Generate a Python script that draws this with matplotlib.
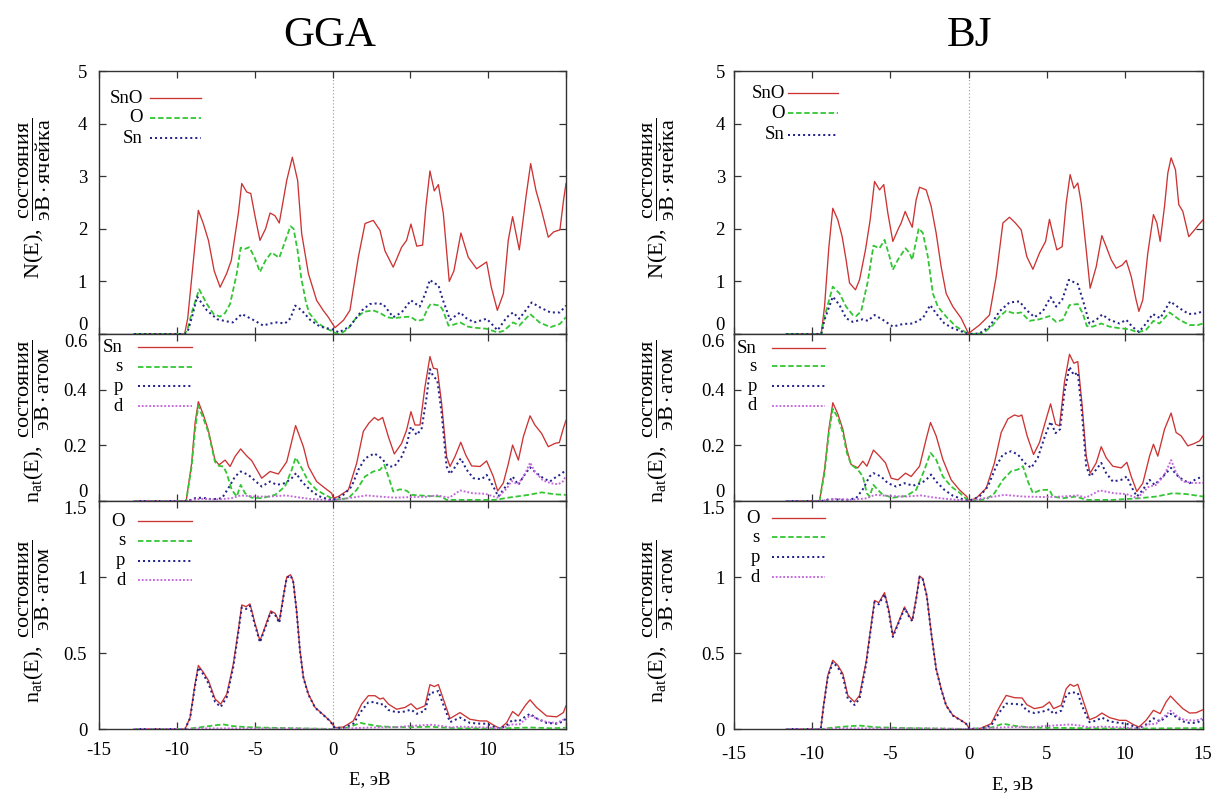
import matplotlib
matplotlib.use("Agg")
import matplotlib.pyplot as plt

plt.rcParams.update({
    "font.family": ["Liberation Serif", "DejaVu Serif"],
    "mathtext.fontset": "custom",
    "mathtext.rm": "Liberation Serif",
    "mathtext.it": "Liberation Serif:italic",
    "mathtext.bf": "Liberation Serif:bold",
    "axes.unicode_minus": False,
})

# ---------------------------------------------------------------- data (E, DOS)
# GGA: total DOS of SnO and its O / Sn contributions
GGA_SNO = [(-12.75, 0), (-9.5, 0), (-9.3, 0.3), (-9.0, 1.2), (-8.62, 2.35), (-8.3, 2.1),
           (-7.97, 1.78), (-7.6, 1.2), (-7.22, 0.89), (-6.8, 1.15), (-6.5, 1.40), (-6.05, 2.29),
           (-5.83, 2.86), (-5.51, 2.70), (-5.25, 2.67), (-4.95, 2.2), (-4.66, 1.78), (-4.3, 2.0),
           (-4.01, 2.30), (-3.7, 2.25), (-3.42, 2.11), (-2.94, 2.92), (-2.58, 3.36), (-2.24, 2.92),
           (-1.98, 1.91), (-1.55, 1.15), (-1.02, 0.64), (-0.6, 0.45), (-0.27, 0.32), (0.16, 0.12),
           (0.7, 0.26), (1.12, 0.45), (1.66, 1.46), (2.09, 2.10), (2.62, 2.16), (3.05, 1.97),
           (3.37, 1.58), (3.9, 1.27), (4.44, 1.65), (4.76, 1.78), (5.04, 2.09), (5.41, 1.67),
           (5.79, 1.69), (6.0, 2.42), (6.26, 3.10), (6.54, 2.72), (6.8, 2.84), (7.12, 2.29),
           (7.5, 1.0), (7.8, 1.2), (8.25, 1.92), (8.72, 1.46), (9.26, 1.24), (9.9, 1.37),
           (10.2, 0.89), (10.59, 0.45), (10.98, 0.77), (11.29, 1.78), (11.57, 2.23), (12.0, 1.60),
           (12.43, 2.61), (12.73, 3.24), (13.07, 2.73), (13.43, 2.35), (13.86, 1.84), (14.2, 1.94),
           (14.61, 1.98), (14.84, 2.54), (15.0, 2.86)]
GGA_O = [(-12.75, 0), (-9.5, 0), (-9.3, 0.1), (-9.0, 0.45), (-8.57, 0.85), (-8.07, 0.57),
         (-7.64, 0.38), (-7.22, 0.33), (-6.9, 0.4), (-6.58, 0.57), (-6.15, 1.15), (-5.9, 1.64),
         (-5.6, 1.62), (-5.34, 1.65), (-5.0, 1.45), (-4.66, 1.18), (-4.3, 1.4), (-3.92, 1.55),
         (-3.42, 1.45), (-3.0, 1.8), (-2.7, 2.05), (-2.5, 2.0), (-2.25, 1.6), (-2.0, 1.05),
         (-1.7, 0.6), (-1.5, 0.4), (-1.0, 0.22), (-0.5, 0.12), (0.0, 0.05), (0.3, 0.0),
         (0.6, 0.02), (1.0, 0.1), (1.5, 0.3), (2.0, 0.42), (2.6, 0.45), (3.05, 0.4), (3.5, 0.32),
         (3.9, 0.3), (4.5, 0.32), (5.0, 0.33), (5.41, 0.25), (5.8, 0.27), (6.1, 0.48), (6.3, 0.57),
         (6.7, 0.55), (6.9, 0.54), (7.1, 0.45), (7.45, 0.16), (7.7, 0.17), (8.2, 0.22), (8.7, 0.14),
         (9.1, 0.12), (9.9, 0.1), (10.6, 0.03), (11.0, 0.06), (11.6, 0.22), (12.0, 0.16),
         (12.7, 0.38), (13.3, 0.22), (14.0, 0.13), (14.6, 0.19), (15.0, 0.32)]
GGA_SN = [(-12.75, 0), (-9.5, 0), (-9.3, 0.05), (-9.0, 0.35), (-8.7, 0.71), (-8.07, 0.45),
          (-7.4, 0.28), (-6.8, 0.24), (-6.4, 0.22), (-5.83, 0.38), (-5.1, 0.27), (-4.45, 0.16),
          (-4.0, 0.2), (-3.58, 0.22), (-3.05, 0.2), (-2.7, 0.3), (-2.4, 0.54), (-1.98, 0.45),
          (-1.44, 0.27), (-0.8, 0.14), (0.08, 0.08), (0.4, 0.03), (1.1, 0.14), (1.9, 0.45),
          (2.4, 0.57), (2.8, 0.58), (3.25, 0.57), (3.9, 0.32), (4.44, 0.41), (5.04, 0.64),
          (5.6, 0.52), (5.95, 0.76), (6.26, 1.03), (6.5, 0.97), (6.8, 0.93), (7.1, 0.64),
          (7.55, 0.27), (8.2, 0.41), (8.6, 0.3), (9.1, 0.22), (9.9, 0.29), (10.2, 0.2),
          (10.6, 0.07), (11.2, 0.32), (11.6, 0.41), (12.0, 0.29), (12.8, 0.6), (13.3, 0.51),
          (14.0, 0.41), (14.6, 0.41), (15.0, 0.54)]

# GGA: Sn atom, total and s / p / d
GGA_SN_TOT = [(-12.75, 0), (-9.4, 0), (-9.05, 0.135), (-8.83, 0.28), (-8.62, 0.357), (-8.3, 0.31),
              (-7.98, 0.255), (-7.55, 0.147), (-7.29, 0.13), (-6.9, 0.147), (-6.58, 0.124),
              (-6.26, 0.16), (-5.9, 0.187), (-5.51, 0.162), (-5.19, 0.145), (-4.55, 0.082),
              (-4.01, 0.106), (-3.48, 0.097), (-2.94, 0.141), (-2.37, 0.271), (-1.87, 0.195),
              (-1.55, 0.124), (-1.02, 0.07), (-0.48, 0.046), (-0.05, 0.028), (0.05, 0.01),
              (0.37, 0.016), (1.02, 0.04), (1.55, 0.135), (1.98, 0.25), (2.34, 0.28), (2.69, 0.30),
              (2.94, 0.29), (3.22, 0.30), (3.59, 0.231), (3.97, 0.169), (4.44, 0.207), (4.76, 0.255),
              (5.04, 0.321), (5.3, 0.273), (5.62, 0.273), (5.94, 0.41), (6.26, 0.519), (6.48, 0.477),
              (6.73, 0.474), (7.01, 0.351), (7.33, 0.159), (7.55, 0.124), (7.87, 0.16), (8.24, 0.211),
              (8.56, 0.165), (8.94, 0.126), (9.48, 0.124), (9.9, 0.144), (10.33, 0.088),
              (10.61, 0.036), (10.97, 0.064), (11.3, 0.135), (11.57, 0.201), (11.94, 0.147),
              (12.26, 0.231), (12.69, 0.306), (13.0, 0.273), (13.43, 0.243), (13.86, 0.195),
              (14.29, 0.207), (14.57, 0.21), (14.83, 0.261), (15.0, 0.29)]
GGA_SN_S = [(-12.75, 0), (-9.4, 0), (-9.05, 0.124), (-8.83, 0.255), (-8.62, 0.342), (-8.3, 0.297),
            (-7.98, 0.249), (-7.55, 0.141), (-7.29, 0.126), (-7.01, 0.124), (-6.8, 0.1),
            (-6.47, 0.04), (-6.15, 0.016), (-5.9, 0.058), (-5.62, 0.028), (-5.19, 0.012),
            (-4.55, 0.01), (-3.69, 0.022), (-3.05, 0.052), (-2.62, 0.112), (-2.37, 0.156),
            (-1.98, 0.118), (-1.55, 0.07), (-1.02, 0.04), (-0.48, 0.022), (-0.05, 0.01),
            (0.05, 0.004), (1.02, 0.01), (1.55, 0.04), (2.09, 0.088), (2.62, 0.106), (3.05, 0.112),
            (3.33, 0.13), (3.59, 0.088), (3.9, 0.034), (4.34, 0.042), (4.76, 0.037), (5.09, 0.022),
            (6.16, 0.018), (7.01, 0.016), (7.33, 0.004), (8.3, 0.004), (10.44, 0.004),
            (11.3, 0.012), (12.58, 0.022), (13.43, 0.031), (14.29, 0.024), (15.0, 0.022)]
GGA_SN_P = [(-12.75, 0), (-9.3, 0), (-8.83, 0.01), (-8.4, 0.012), (-7.76, 0.006), (-7.1, 0.01),
            (-6.69, 0.046), (-6.26, 0.088), (-5.9, 0.106), (-5.41, 0.094), (-4.98, 0.073),
            (-4.55, 0.052), (-4.01, 0.07), (-3.58, 0.058), (-3.05, 0.064), (-2.62, 0.082),
            (-2.34, 0.1), (-1.98, 0.07), (-1.44, 0.04), (-0.91, 0.018), (-0.27, 0.006),
            (0.05, 0.004), (0.59, 0.016), (1.23, 0.052), (1.66, 0.112), (2.09, 0.153),
            (2.69, 0.171), (3.16, 0.153), (3.59, 0.124), (3.97, 0.124), (4.44, 0.159),
            (4.76, 0.201), (5.04, 0.267), (5.41, 0.237), (5.73, 0.261), (6.05, 0.375),
            (6.26, 0.474), (6.48, 0.447), (6.73, 0.435), (7.01, 0.315), (7.33, 0.124),
            (7.55, 0.097), (7.9, 0.124), (8.24, 0.153), (8.62, 0.112), (9.05, 0.082),
            (9.58, 0.078), (9.9, 0.094), (10.33, 0.052), (10.65, 0.016), (10.97, 0.04),
            (11.3, 0.066), (11.57, 0.088), (11.94, 0.058), (12.26, 0.088), (12.69, 0.121),
            (13.11, 0.1), (13.54, 0.082), (13.97, 0.07), (14.4, 0.088), (14.72, 0.097),
            (15.0, 0.114)]
GGA_SN_D = [(-12.75, 0), (-9.3, 0), (-8.8, 0.006), (-8.3, 0.008), (-7.5, 0.005), (-6.5, 0.01),
            (-5.9, 0.02), (-5.0, 0.016), (-4.0, 0.016), (-3.0, 0.02), (-2.3, 0.014), (-1.5, 0.008),
            (-0.5, 0.004), (0.0, 0.002), (1.0, 0.01), (2.2, 0.02), (3.0, 0.016), (4.0, 0.012),
            (5.0, 0.014), (6.0, 0.015), (6.7, 0.02), (7.5, 0.012), (8.2, 0.038), (9.0, 0.028),
            (9.8, 0.026), (10.6, 0.012), (11.2, 0.045), (11.5, 0.072), (11.9, 0.06), (12.3, 0.09),
            (12.7, 0.138), (13.0, 0.105), (13.5, 0.075), (14.0, 0.064), (14.5, 0.06), (14.8, 0.07),
            (15.0, 0.09)]

# GGA: O atom, total and s / p / d
GGA_O_TOT = [(-12.75, 0), (-9.47, 0), (-9.15, 0.075), (-8.83, 0.296), (-8.62, 0.418), (-8.3, 0.374),
             (-7.97, 0.319), (-7.54, 0.197), (-7.18, 0.164), (-6.79, 0.23), (-6.37, 0.429),
             (-6.05, 0.65), (-5.83, 0.816), (-5.55, 0.805), (-5.3, 0.823), (-4.98, 0.695),
             (-4.66, 0.58), (-4.33, 0.673), (-3.97, 0.777), (-3.69, 0.761), (-3.42, 0.706),
             (-3.16, 0.872), (-2.94, 1.0), (-2.69, 1.015), (-2.52, 0.971), (-2.31, 0.783),
             (-2.09, 0.518), (-1.87, 0.341), (-1.55, 0.23), (-1.12, 0.142), (-0.58, 0.093),
             (-0.16, 0.053), (0.16, 0.009), (0.7, 0.013), (1.34, 0.053), (1.87, 0.164),
             (2.3, 0.219), (2.73, 0.219), (3.05, 0.197), (3.26, 0.204), (3.59, 0.164),
             (4.12, 0.13), (4.66, 0.142), (5.04, 0.166), (5.41, 0.13), (5.94, 0.153), (6.26, 0.292),
             (6.54, 0.279), (6.8, 0.292), (7.12, 0.197), (7.55, 0.069), (8.19, 0.108),
             (8.83, 0.064), (9.48, 0.053), (9.9, 0.053), (10.44, 0.02), (10.76, 0.004),
             (11.19, 0.042), (11.57, 0.115), (11.94, 0.086), (12.37, 0.153), (12.69, 0.192),
             (13.11, 0.142), (13.75, 0.086), (14.4, 0.08), (14.83, 0.108), (15.0, 0.153)]
GGA_O_S = [(-12.75, 0), (-9.4, 0), (-8.6, 0.01), (-8.0, 0.018), (-7.5, 0.025), (-7.0, 0.03),
           (-6.5, 0.02), (-5.5, 0.012), (-4.0, 0.008), (-2.0, 0.004), (0.0, 0.0), (1.0, 0.01),
           (1.8, 0.04), (2.3, 0.03), (3.0, 0.018), (4.0, 0.012), (5.0, 0.012), (6.3, 0.015),
           (7.0, 0.01), (8.0, 0.005), (10.0, 0.003), (11.5, 0.006), (12.7, 0.01), (14.0, 0.005),
           (15.0, 0.008)]
GGA_O_P = [(-12.75, 0), (-9.47, 0), (-9.15, 0.07), (-8.83, 0.285), (-8.62, 0.405), (-8.3, 0.36),
           (-7.97, 0.3), (-7.54, 0.178), (-7.18, 0.145), (-6.79, 0.21), (-6.37, 0.41),
           (-6.05, 0.635), (-5.83, 0.8), (-5.55, 0.79), (-5.3, 0.81), (-4.98, 0.683), (-4.66, 0.57),
           (-4.33, 0.663), (-3.97, 0.767), (-3.69, 0.752), (-3.42, 0.698), (-3.16, 0.865),
           (-2.94, 0.995), (-2.69, 1.01), (-2.52, 0.966), (-2.31, 0.778), (-2.09, 0.513),
           (-1.87, 0.337), (-1.55, 0.227), (-1.12, 0.14), (-0.58, 0.091), (-0.16, 0.052),
           (0.16, 0.007), (0.7, 0.008), (1.34, 0.035), (1.87, 0.12), (2.3, 0.175), (2.73, 0.178),
           (3.05, 0.16), (3.26, 0.165), (3.59, 0.125), (4.12, 0.11), (4.66, 0.115), (5.04, 0.128),
           (5.41, 0.1), (5.94, 0.12), (6.26, 0.24), (6.54, 0.24), (6.8, 0.25), (7.12, 0.16),
           (7.55, 0.045), (8.19, 0.075), (8.83, 0.04), (9.48, 0.035), (9.9, 0.035), (10.44, 0.012),
           (10.76, 0.002), (11.19, 0.025), (11.57, 0.06), (11.94, 0.05), (12.37, 0.08),
           (12.69, 0.1), (13.11, 0.07), (13.75, 0.04), (14.4, 0.035), (14.83, 0.05), (15.0, 0.07)]
GGA_O_D = [(-12.75, 0), (-9.4, 0), (-8.6, 0.004), (-6.0, 0.004), (-3.0, 0.004), (0.0, 0.0),
           (1.0, 0.004), (2.5, 0.01), (4.0, 0.012), (5.0, 0.02), (6.3, 0.028), (7.0, 0.02),
           (7.6, 0.01), (8.2, 0.016), (9.0, 0.012), (10.0, 0.01), (10.8, 0.002), (11.5, 0.03),
           (12.0, 0.03), (12.7, 0.09), (13.2, 0.065), (13.8, 0.045), (14.4, 0.04), (15.0, 0.07)]

# BJ: total DOS of SnO and its O / Sn contributions
BJ_SNO = [(-11.66, 0), (-9.42, 0), (-9.21, 0.52), (-8.93, 1.66), (-8.68, 2.39), (-8.36, 2.17),
          (-8.08, 1.85), (-7.83, 1.41), (-7.61, 0.97), (-7.23, 0.84), (-6.97, 1.03), (-6.59, 1.6),
          (-6.29, 2.17), (-6.01, 2.9), (-5.69, 2.74), (-5.42, 2.84), (-5.16, 2.3), (-4.84, 1.76),
          (-4.52, 1.98), (-4.31, 2.11), (-4.05, 2.33), (-3.82, 2.17), (-3.6, 2.03), (-3.35, 2.55),
          (-3.13, 2.79), (-2.71, 2.74), (-2.39, 2.43), (-2.07, 1.92), (-1.75, 1.28), (-1.43, 0.77),
          (-1.0, 0.52), (-0.47, 0.3), (0.0, 0.01), (0.7, 0.17), (1.34, 0.36), (1.77, 1.09),
          (2.2, 2.11), (2.62, 2.22), (3.0, 2.11), (3.37, 1.98), (3.73, 1.47), (4.12, 1.23),
          (4.54, 1.54), (4.93, 1.76), (5.18, 2.18), (5.44, 1.85), (5.65, 1.6), (5.99, 1.66),
          (6.25, 2.49), (6.5, 3.03), (6.74, 2.77), (6.99, 2.87), (7.21, 2.49), (7.53, 1.6),
          (7.78, 0.87), (8.17, 1.28), (8.53, 1.87), (8.81, 1.66), (9.13, 1.41), (9.45, 1.25),
          (9.83, 1.31), (10.09, 1.4), (10.41, 1.09), (10.72, 0.65), (10.9, 0.43), (11.15, 0.65),
          (11.47, 1.54), (11.83, 2.27), (12.05, 2.11), (12.26, 1.76), (12.54, 2.43), (12.75, 3.06),
          (12.96, 3.35), (13.24, 3.12), (13.45, 2.46), (13.71, 2.33), (14.09, 1.85), (14.46, 1.98),
          (14.73, 2.08), (15.0, 2.17)]
BJ_O = [(-11.66, 0), (-9.42, 0), (-9.21, 0.33), (-8.68, 0.9), (-8.25, 0.77), (-7.83, 0.52),
        (-7.4, 0.36), (-7.19, 0.34), (-6.87, 0.43), (-6.44, 1.0), (-6.08, 1.68), (-5.69, 1.63),
        (-5.37, 1.79), (-5.05, 1.47), (-4.84, 1.22), (-4.52, 1.41), (-4.03, 1.63), (-3.77, 1.54),
        (-3.6, 1.41), (-3.18, 2.01), (-2.92, 1.92), (-2.6, 1.47), (-2.28, 0.77), (-1.96, 0.52),
        (-1.43, 0.33), (-0.79, 0.14), (0.0, 0.0), (0.92, 0.01), (1.56, 0.17), (1.98, 0.33),
        (2.41, 0.44), (2.94, 0.39), (3.37, 0.41), (3.9, 0.25), (4.54, 0.28), (5.18, 0.34),
        (5.61, 0.23), (6.03, 0.27), (6.46, 0.55), (6.99, 0.57), (7.31, 0.39), (7.57, 0.15),
        (7.95, 0.14), (8.49, 0.2), (9.02, 0.14), (9.66, 0.11), (10.3, 0.09), (10.83, 0.03),
        (11.36, 0.08), (11.83, 0.25), (12.22, 0.2), (12.86, 0.41), (13.5, 0.27), (14.14, 0.17),
        (14.67, 0.17), (15.0, 0.2)]
BJ_SN = [(-11.66, 0), (-9.42, 0), (-9.21, 0.27), (-8.68, 0.71), (-8.25, 0.55), (-7.83, 0.3),
         (-7.4, 0.23), (-6.76, 0.28), (-6.44, 0.25), (-6.01, 0.36), (-5.48, 0.27), (-4.84, 0.14),
         (-4.2, 0.19), (-3.56, 0.2), (-2.92, 0.3), (-2.45, 0.55), (-2.07, 0.39), (-1.54, 0.2),
         (-1.0, 0.11), (0.0, 0.0), (0.7, 0.01), (1.34, 0.14), (1.98, 0.43), (2.62, 0.6),
         (3.26, 0.62), (3.69, 0.46), (4.22, 0.32), (4.75, 0.43), (5.25, 0.7), (5.61, 0.52),
         (5.99, 0.65), (6.42, 1.03), (6.99, 0.95), (7.31, 0.65), (7.74, 0.2), (8.17, 0.27),
         (8.55, 0.37), (9.02, 0.27), (9.66, 0.2), (10.09, 0.27), (10.47, 0.14), (10.9, 0.04),
         (11.36, 0.2), (11.79, 0.38), (12.26, 0.3), (12.9, 0.62), (13.5, 0.49), (14.09, 0.38),
         (14.56, 0.39), (15.0, 0.43)]

# BJ: Sn atom, total and s / p / d
BJ_SN_TOT = [(-11.66, 0), (-9.53, 0), (-9.21, 0.113), (-8.93, 0.258), (-8.68, 0.353), (-8.36, 0.313),
             (-8.04, 0.258), (-7.78, 0.185), (-7.51, 0.131), (-7.08, 0.119), (-6.76, 0.143),
             (-6.5, 0.125), (-6.08, 0.183), (-5.69, 0.161), (-5.31, 0.137), (-4.95, 0.082),
             (-4.52, 0.076), (-4.03, 0.1), (-3.67, 0.088), (-3.13, 0.125), (-2.71, 0.222),
             (-2.43, 0.282), (-2.07, 0.234), (-1.64, 0.149), (-1.11, 0.076), (-0.58, 0.04),
             (-0.11, 0.016), (0.0, 0.0), (0.49, 0.01), (1.13, 0.046), (1.66, 0.137), (2.09, 0.246),
             (2.52, 0.295), (2.94, 0.309), (3.22, 0.304), (3.41, 0.309), (3.75, 0.234),
             (4.16, 0.167), (4.54, 0.21), (4.97, 0.295), (5.25, 0.349), (5.57, 0.276), (5.82, 0.27),
             (6.14, 0.428), (6.46, 0.527), (6.74, 0.495), (6.99, 0.501), (7.27, 0.343),
             (7.53, 0.161), (7.78, 0.1), (8.17, 0.137), (8.49, 0.195), (8.81, 0.155), (9.23, 0.125),
             (9.77, 0.119), (10.13, 0.139), (10.41, 0.088), (10.77, 0.034), (11.15, 0.064),
             (11.58, 0.161), (11.83, 0.204), (12.11, 0.161), (12.54, 0.258), (12.96, 0.316),
             (13.28, 0.246), (13.6, 0.234), (14.03, 0.198), (14.46, 0.207), (14.78, 0.216),
             (15.0, 0.234)]
BJ_SN_S = [(-11.66, 0), (-9.53, 0), (-9.21, 0.1), (-8.93, 0.246), (-8.68, 0.331), (-8.36, 0.3),
           (-8.04, 0.246), (-7.78, 0.173), (-7.51, 0.131), (-7.08, 0.113), (-6.76, 0.088),
           (-6.5, 0.028), (-6.33, 0.016), (-6.08, 0.058), (-5.8, 0.04), (-5.48, 0.022),
           (-4.84, 0.012), (-3.99, 0.018), (-3.35, 0.04), (-2.81, 0.113), (-2.43, 0.173),
           (-2.07, 0.149), (-1.64, 0.088), (-1.11, 0.052), (-0.58, 0.03), (0.0, 0.0), (1.13, 0.006),
           (1.66, 0.028), (2.2, 0.076), (2.73, 0.107), (3.16, 0.113), (3.48, 0.125), (3.8, 0.07),
           (4.12, 0.028), (4.65, 0.04), (5.18, 0.04), (5.39, 0.016), (6.03, 0.01), (6.89, 0.016),
           (7.53, 0.004), (9.23, 0.004), (10.94, 0.01), (12.0, 0.016), (13.07, 0.028),
           (13.92, 0.025), (15.0, 0.016)]
BJ_SN_P = [(-11.66, 0), (-9.4, 0), (-8.9, 0.006), (-7.8, 0.004), (-7.19, 0.01), (-6.76, 0.042),
           (-6.33, 0.088), (-6.08, 0.1), (-5.59, 0.088), (-5.16, 0.064), (-4.63, 0.052),
           (-4.09, 0.064), (-3.56, 0.055), (-3.03, 0.064), (-2.71, 0.076), (-2.39, 0.095),
           (-2.07, 0.07), (-1.54, 0.04), (-1.0, 0.019), (-0.36, 0.006), (0.0, 0.0), (0.7, 0.016),
           (1.24, 0.052), (1.77, 0.125), (2.2, 0.167), (2.73, 0.179), (3.16, 0.167), (3.58, 0.137),
           (4.01, 0.119), (4.43, 0.155), (4.86, 0.228), (5.25, 0.285), (5.57, 0.244),
           (5.86, 0.258), (6.14, 0.392), (6.46, 0.482), (6.74, 0.452), (6.99, 0.462),
           (7.27, 0.307), (7.53, 0.125), (7.78, 0.088), (8.17, 0.113), (8.49, 0.137), (8.81, 0.1),
           (9.23, 0.07), (9.77, 0.076), (10.13, 0.088), (10.41, 0.052), (10.77, 0.016),
           (11.15, 0.04), (11.58, 0.076), (11.9, 0.058), (12.43, 0.088), (12.96, 0.119),
           (13.28, 0.095), (13.71, 0.076), (14.14, 0.064), (14.56, 0.079), (15.0, 0.088)]
BJ_SN_D = [(-11.66, 0), (-9.4, 0), (-9.0, 0.005), (-8.5, 0.008), (-7.5, 0.004), (-6.5, 0.01),
           (-6.0, 0.022), (-5.0, 0.018), (-4.0, 0.016), (-3.0, 0.02), (-2.4, 0.014), (-1.5, 0.008),
           (0.0, 0.0), (1.0, 0.01), (2.3, 0.022), (3.5, 0.016), (5.0, 0.014), (6.0, 0.016),
           (7.0, 0.02), (7.5, 0.012), (8.4, 0.038), (9.3, 0.028), (10.1, 0.025), (10.8, 0.01),
           (11.5, 0.05), (12.0, 0.058), (12.5, 0.09), (12.96, 0.147), (13.3, 0.1), (13.7, 0.07),
           (14.3, 0.065), (15.0, 0.065)]

# BJ: O atom, total and s / p / d
BJ_O_TOT = [(-11.66, 0), (-9.45, 0), (-9.27, 0.156), (-9.0, 0.353), (-8.68, 0.452), (-8.36, 0.419),
            (-8.04, 0.364), (-7.72, 0.221), (-7.29, 0.178), (-6.97, 0.221), (-6.55, 0.441),
            (-6.29, 0.638), (-6.01, 0.846), (-5.74, 0.831), (-5.37, 0.897), (-5.1, 0.781),
            (-4.84, 0.616), (-4.52, 0.693), (-4.09, 0.803), (-3.82, 0.748), (-3.6, 0.715),
            (-3.35, 0.857), (-3.13, 1.007), (-2.92, 0.989), (-2.67, 0.879), (-2.39, 0.638),
            (-2.07, 0.397), (-1.75, 0.265), (-1.43, 0.156), (-1.0, 0.09), (-0.47, 0.057),
            (-0.15, 0.035), (0.06, 0.002), (0.7, 0.002), (1.45, 0.035), (1.98, 0.145),
            (2.41, 0.221), (2.94, 0.206), (3.43, 0.204), (3.73, 0.16), (4.22, 0.134), (4.75, 0.145),
            (5.18, 0.178), (5.44, 0.134), (5.93, 0.156), (6.25, 0.265), (6.5, 0.294), (6.74, 0.281),
            (6.99, 0.294), (7.27, 0.206), (7.74, 0.061), (8.17, 0.079), (8.53, 0.105),
            (9.02, 0.075), (9.66, 0.057), (10.09, 0.057), (10.51, 0.031), (10.9, 0.013),
            (11.36, 0.057), (11.83, 0.123), (12.26, 0.101), (12.64, 0.178), (12.92, 0.217),
            (13.28, 0.178), (13.71, 0.134), (14.14, 0.105), (14.56, 0.107), (15.0, 0.127)]
BJ_O_S = [(-11.66, 0), (-9.4, 0), (-8.6, 0.01), (-7.4, 0.02), (-6.9, 0.022), (-6.0, 0.012),
          (-4.0, 0.006), (-2.0, 0.003), (0.0, 0.0), (1.5, 0.01), (2.2, 0.035), (3.0, 0.02),
          (4.0, 0.01), (5.0, 0.008), (7.0, 0.006), (10.0, 0.002), (12.0, 0.004), (15.0, 0.006)]
BJ_O_P = [(-11.66, 0), (-9.45, 0), (-9.27, 0.15), (-9.0, 0.34), (-8.68, 0.44), (-8.36, 0.405),
          (-8.04, 0.348), (-7.72, 0.2), (-7.29, 0.158), (-6.97, 0.2), (-6.55, 0.425),
          (-6.29, 0.625), (-6.01, 0.835), (-5.74, 0.82), (-5.37, 0.888), (-5.1, 0.772),
          (-4.84, 0.606), (-4.52, 0.685), (-4.09, 0.795), (-3.82, 0.742), (-3.6, 0.709),
          (-3.35, 0.851), (-3.13, 1.0), (-2.92, 0.984), (-2.67, 0.875), (-2.39, 0.634),
          (-2.07, 0.394), (-1.75, 0.262), (-1.43, 0.154), (-1.0, 0.088), (-0.47, 0.055),
          (-0.15, 0.034), (0.06, 0.002), (0.7, 0.001), (1.45, 0.022), (1.98, 0.11), (2.41, 0.167),
          (2.94, 0.165), (3.43, 0.16), (3.73, 0.12), (4.22, 0.105), (4.75, 0.115), (5.18, 0.13),
          (5.44, 0.1), (5.93, 0.12), (6.25, 0.22), (6.5, 0.24), (6.74, 0.24), (6.99, 0.237),
          (7.27, 0.15), (7.74, 0.045), (8.17, 0.055), (8.53, 0.075), (9.02, 0.05), (9.66, 0.04),
          (10.09, 0.035), (10.51, 0.02), (10.9, 0.005), (11.36, 0.03), (11.83, 0.07),
          (12.26, 0.05), (12.64, 0.08), (12.92, 0.1), (13.28, 0.08), (13.71, 0.05), (14.14, 0.04),
          (14.56, 0.04), (15.0, 0.06)]
BJ_O_D = [(-11.66, 0), (-9.4, 0), (-8.6, 0.004), (-6.0, 0.004), (-3.0, 0.004), (0.0, 0.0),
          (1.0, 0.004), (2.5, 0.012), (4.0, 0.012), (5.0, 0.02), (6.5, 0.03), (7.2, 0.022),
          (7.7, 0.01), (8.5, 0.016), (10.0, 0.01), (10.9, 0.002), (11.5, 0.03), (12.0, 0.035),
          (12.92, 0.12), (13.4, 0.08), (13.8, 0.06), (14.5, 0.055), (15.0, 0.07)]

TITLES = ["GGA", "BJ"]
X_TICKS = [-15, -10, -5, 0, 5, 10, 15]
TOP_YTICKS = [0, 1, 2, 3, 4, 5]
TOP_YLABELS = ["0", "1", "2", "3", "4", "5"]
MID_YTICKS = [0, 0.2, 0.4, 0.6]
MID_YLABELS = ["0", "0.2", "0.4", "0.6"]
BOT_YTICKS = [0, 0.5, 1, 1.5]
BOT_YLABELS = ["0", "0.5", "1", "1.5"]
TOP_NAMES = ["SnO", "O", "Sn"]
SN_NAMES = ["Sn", "s", "p", "d"]
O_NAMES = ["O", "s", "p", "d"]
XLABEL = "E, эВ"
YLABEL_CELL = r"$\mathrm{N(E),}\ \dfrac{\mathrm{состояния}}{\mathrm{эВ}\cdot\mathrm{ячейка}}$"
YLABEL_ATOM = r"$\mathrm{n_{at}(E),}\ \dfrac{\mathrm{состояния}}{\mathrm{эВ}\cdot\mathrm{атом}}$"

# ---------------------------------------------------------------- styles
RED = "#cc3333"
GREEN = "#33c633"
BLUE = "#24248c"
VIOLET = "#c466dc"
STYLES = {
    "tot": dict(color=RED, lw=0.95, ls="-"),
    "s": dict(color=GREEN, lw=1.3, ls=(0, (3.0, 1.5))),
    "p": dict(color=BLUE, lw=1.45, ls=(0, (1.0, 1.5))),
    "d": dict(color=VIOLET, lw=1.35, ls=(0, (1.0, 1.0))),
}
FS = 13.5
LABEL_FS = 16
W, H = 1214, 794

fig = plt.figure(figsize=(W / 100, H / 100), dpi=100)


def add_axes(x0, w, ytop, ybot):
    return fig.add_axes([x0 / W, 1 - ybot / H, w / W, (ybot - ytop) / H])


def draw(ax, pairs, key):
    e = [p[0] for p in pairs]
    v = [p[1] for p in pairs]
    ax.plot(e, v, **STYLES[key], zorder=3)


def key_block(ax, names, keys, xt, x0, x1, ys):
    for name, key, y in zip(names, keys, ys):
        ax.text(xt, y, name, transform=ax.transAxes, ha="right", va="center", fontsize=FS)
        ax.plot([x0, x1], [y, y], transform=ax.transAxes, clip_on=False, **STYLES[key])


def style_axes(ax, yticks, ylabels, ylim, ypad, xpad, show_x, edge_va):
    ax.set_xlim(-15, 15)
    ax.set_ylim(*ylim)
    ax.set_xticks(X_TICKS)
    ax.set_yticks(yticks)
    ax.set_yticklabels(ylabels, fontsize=FS)
    if show_x:
        ax.set_xticklabels([str(t) for t in X_TICKS], fontsize=FS)
    else:
        ax.set_xticklabels([])
    ax.tick_params(axis="both", direction="in", length=5, width=0.9, top=True, right=True,
                   color="#333333")
    ax.tick_params(axis="y", pad=ypad)
    ax.tick_params(axis="x", pad=xpad)
    for sp in ax.spines.values():
        sp.set_linewidth(1.0)
        sp.set_color("#333333")
    ax.axvline(0, color="#999999", lw=0.8, ls=(0, (1, 2)), zorder=1)
    ticks = ax.yaxis.get_major_ticks()
    for idx, va in edge_va:
        ticks[idx].label1.set_va(va)


columns = [
    dict(x0=99, w=467, ypad=8.5, xpad=9.5, tcx=330, lblx=35, xlx=370, xly=780,
         top=(GGA_SNO, GGA_O, GGA_SN), sn=(GGA_SN_TOT, GGA_SN_S, GGA_SN_P, GGA_SN_D),
         o=(GGA_O_TOT, GGA_O_S, GGA_O_P, GGA_O_D),
         k_top=(0.094, 0.109, 0.218, [0.897, 0.822, 0.745]),
         k_sn=(0.051, 0.084, 0.199, [0.922, 0.804, 0.686, 0.568]),
         k_o=(0.056, 0.084, 0.199, [0.912, 0.826, 0.739, 0.652])),
    dict(x0=734, w=469, ypad=6.5, xpad=12.0, tcx=970, lblx=659, xlx=1013, xly=785,
         top=(BJ_SNO, BJ_O, BJ_SN), sn=(BJ_SN_TOT, BJ_SN_S, BJ_SN_P, BJ_SN_D),
         o=(BJ_O_TOT, BJ_O_S, BJ_O_P, BJ_O_D),
         k_top=(0.109, 0.115, 0.222, [0.916, 0.840, 0.757]),
         k_sn=(0.049, 0.081, 0.194, [0.916, 0.808, 0.688, 0.57]),
         k_o=(0.055, 0.081, 0.194, [0.925, 0.841, 0.753, 0.665])),
]

for title, col in zip(TITLES, columns):
    ax1 = add_axes(col["x0"], col["w"], 71, 334)
    ax2 = add_axes(col["x0"], col["w"], 334, 501)
    ax3 = add_axes(col["x0"], col["w"], 501, 729)

    style_axes(ax1, TOP_YTICKS, TOP_YLABELS, (0, 5), col["ypad"], col["xpad"], False,
               [(0, "bottom")])
    style_axes(ax2, MID_YTICKS, MID_YLABELS, (0, 0.6), col["ypad"], col["xpad"], False,
               [(0, "bottom"), (3, "top")])
    style_axes(ax3, BOT_YTICKS, BOT_YLABELS, (0, 1.5), col["ypad"], col["xpad"], True,
               [(3, "top")])

    for pairs, key in zip(col["top"], ["tot", "s", "p"]):
        draw(ax1, pairs, key)
    for pairs, key in zip(col["sn"], ["tot", "s", "p", "d"]):
        draw(ax2, pairs, key)
    for pairs, key in zip(col["o"], ["tot", "s", "p", "d"]):
        draw(ax3, pairs, key)

    key_block(ax1, TOP_NAMES, ["tot", "s", "p"], *col["k_top"])
    key_block(ax2, SN_NAMES, ["tot", "s", "p", "d"], *col["k_sn"])
    key_block(ax3, O_NAMES, ["tot", "s", "p", "d"], *col["k_o"])

    fig.text(col["tcx"] / W, 1 - 36 / H, title, ha="center", va="center", fontsize=31)
    fig.text(col["lblx"] / W, 1 - 198 / H, YLABEL_CELL, rotation=90, ha="center",
             va="center", fontsize=LABEL_FS)
    fig.text(col["lblx"] / W, 1 - 421 / H, YLABEL_ATOM, rotation=90, ha="center",
             va="center", fontsize=LABEL_FS)
    fig.text(col["lblx"] / W, 1 - 621 / H, YLABEL_ATOM, rotation=90, ha="center",
             va="center", fontsize=LABEL_FS)
    fig.text(col["xlx"] / W, 1 - col["xly"] / H, XLABEL, ha="center", va="center",
             fontsize=FS)

fig.savefig("out.png", dpi=100, facecolor="white")
